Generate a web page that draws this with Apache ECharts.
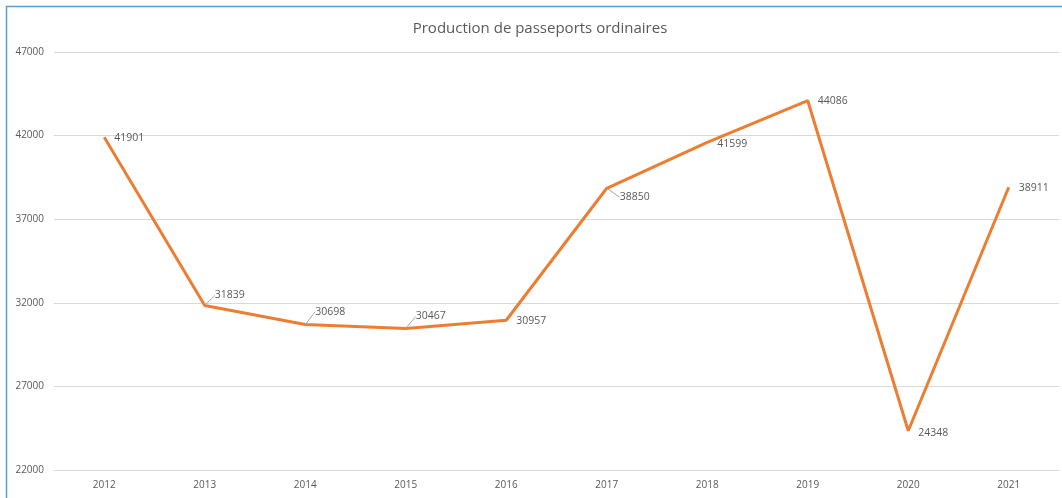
<!DOCTYPE html>
<html><head><meta charset="utf-8">
<script src="https://cdn.jsdelivr.net/npm/echarts@6/dist/echarts.min.js"></script>
<style>html,body{margin:0;padding:0;background:#fff}#c{width:1062px;height:498px}</style>
</head><body><div id="c"></div>
<script>
const years = ['2012','2013','2014','2015','2016','2017','2018','2019','2020','2021'];
const production = [41901, 31839, 30698, 30467, 30957, 38850, 41599, 44086, 24348, 38911];
const yTicks = [22000, 27000, 32000, 37000, 42000, 47000];
const titleText = 'Production de passeports ordinaires';

// label displacement and leader line visibility (style only)
const labelShift = [[0,1],[0,-10],[0,-13],[0,-12],[0,1],[3,9],[0,2],[0,0],[0,2],[0,1]];
const leader = [false, true, true, true, false, true, false, false, false, false];

const chart = echarts.init(document.getElementById('c'));
const font = '"Open Sans", "Noto Sans", sans-serif';
chart.setOption({
  animation: false,
  textStyle: {fontFamily: font},
  title: {text: titleText, left: 535, top: 16, textAlign: 'center',
    textStyle: {fontSize: 15, fontWeight: 'normal', color: '#595959', fontFamily: font}},
  graphic: [{type: 'rect', shape: {x: 6.5, y: 6.5, width: 1200, height: 600},
    style: {fill: 'none', stroke: '#5B9BD5', lineWidth: 1.5}, silent: true, z: 100}],
  grid: {left: 54, right: 3, top: 52, bottom: 28, containLabel: false},
  xAxis: {type: 'category', data: years, boundaryGap: true,
    axisLine: {show: true, lineStyle: {color: '#d9d9d9'}}, axisTick: {show: false},
    axisLabel: {color: '#595959', fontSize: 10, margin: 10, fontFamily: font}},
  yAxis: {type: 'value', min: yTicks[0], max: yTicks[yTicks.length-1], interval: 5000,
    axisLine: {show: false}, axisTick: {show: false},
    splitLine: {lineStyle: {color: '#d9d9d9'}},
    axisLabel: {color: '#595959', fontSize: 10, margin: 10, fontFamily: font,
      formatter: v => String(v)}},
  series: [{type: 'line',
    data: production.map((v, i) => ({value: v, labelLine: {show: leader[i]}})),
    symbol: 'circle', symbolSize: 0.1, showSymbol: true,
    lineStyle: {color: '#ED7D31', width: 3}, itemStyle: {color: '#ED7D31'},
    label: {show: true, position: 'right', distance: 10, color: '#595959', fontSize: 10.5, fontFamily: font,
      formatter: p => String(p.value)},
    labelLine: {show: true, lineStyle: {color: '#a6a6a6', width: 1}},
    labelLayout: function (p) {
      const s = labelShift[p.dataIndex];
      return {dx: s[0], dy: s[1]};
    }
  }]
});
</script></body></html>
